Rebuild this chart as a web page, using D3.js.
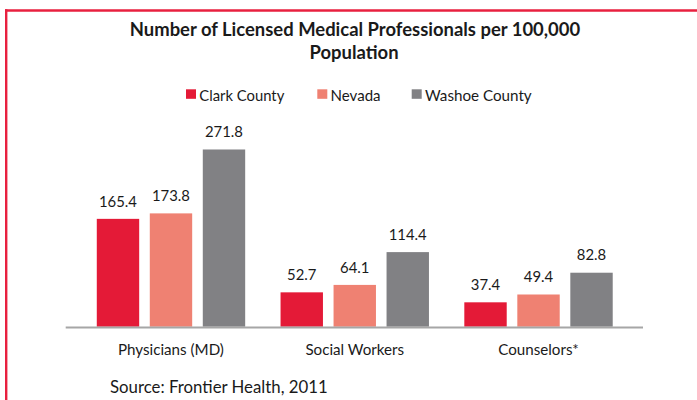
<!DOCTYPE html>
<html><head><meta charset="utf-8">
<script src="https://cdn.jsdelivr.net/npm/d3@7/dist/d3.min.js"></script>
<style>
html,body{margin:0;padding:0;background:#fff;}
svg{display:block;}
text{font-family:Lato,"Open Sans",sans-serif;fill:#1a1a1a;}
</style></head>
<body>
<svg id="chart" width="697" height="400"></svg>
<script>
const title = ["Number of Licensed Medical Professionals per 100,000", "Population"];
const categories = ["Physicians (MD)", "Social Workers", "Counselors*"];
const seriesNames = ["Clark County", "Nevada", "Washoe County"];
const clarkCounty = [165.4, 52.7, 37.4];
const nevada = [173.8, 64.1, 49.4];
const washoeCounty = [271.8, 114.4, 82.8];
const source = "Source: Frontier Health, 2011";

const seriesValues = [clarkCounty, nevada, washoeCounty];
const colors = ["#E41A37", "#EF8172", "#818184"];

const svg = d3.select("#chart");

function fit(sel, w) {
  const node = sel.node();
  const fs = parseFloat(sel.attr("font-size"));
  const len = node.getComputedTextLength();
  sel.attr("font-size", (fs * w / len).toFixed(2));
  return sel;
}

// border
svg.append("line").attr("x1", 5).attr("x2", 697).attr("y1", 10.5).attr("y2", 10.5)
  .attr("stroke", "#E8203F").attr("stroke-width", 2.5);
svg.append("line").attr("x1", 6.2).attr("x2", 6.2).attr("y1", 9.3).attr("y2", 400)
  .attr("stroke", "#E8203F").attr("stroke-width", 2.4);

// title (two lines)
{
  const probe = svg.append("text").attr("font-weight", "bold").attr("font-size", 17).text(title[0]);
  const fs = 17 * 451 / probe.node().getComputedTextLength();
  probe.remove();
  const t = svg.append("text").attr("text-anchor", "middle").attr("font-weight", "bold")
    .attr("font-size", fs.toFixed(2));
  t.append("tspan").attr("x", 355).attr("y", 35.7).text(title[0]);
  t.append("tspan").attr("x", 354).attr("y", 58.7).text(title[1]);
}

// legend
const legendX = [186, 317.3, 411.7];
const legendW = [85, 50, 106.7];
seriesNames.forEach((s, i) => {
  svg.append("rect").attr("x", legendX[i]).attr("y", 89.3).attr("width", 10).attr("height", 9.5)
    .attr("fill", colors[i]);
  fit(svg.append("text").attr("x", legendX[i] + 13.3).attr("y", 100.7)
    .attr("font-size", 15).text(s), legendW[i]);
});

// scales
const baseY = 326.7;
const x0 = d3.scaleBand().domain(categories).range([79.1, 630.4]);
const x1 = d3.scaleBand().domain(seriesNames).range([-79.5, 79.5]).paddingInner(0.2).paddingOuter(0.1);
const y = d3.scaleLinear().domain([0, 300]).range([baseY, baseY - 300 * 0.652]);

const groups = svg.append("g").selectAll("g").data(categories).join("g")
  .attr("transform", c => `translate(${x0(c) + x0.bandwidth() / 2},0)`);

groups.each(function (c, ci) {
  const g = d3.select(this);
  seriesNames.forEach((s, si) => {
    const v = seriesValues[si][ci];
    g.append("rect").attr("x", x1(s)).attr("width", x1.bandwidth())
      .attr("y", y(v)).attr("height", y(0) - y(v)).attr("fill", colors[si]);
    g.append("text").attr("x", x1(s) + x1.bandwidth() / 2).attr("y", y(v) - 12.3)
      .attr("text-anchor", "middle").attr("font-size", 15).text(v.toFixed(1));
  });
});
{
  const probe = svg.append("text").attr("font-size", 15).text("165.4");
  const fs = 15 * 38 / probe.node().getComputedTextLength();
  probe.remove();
  groups.selectAll("text").attr("font-size", fs.toFixed(2));
}

// axis line
svg.append("line").attr("x1", 65.7).attr("x2", 643).attr("y1", baseY + 0.8).attr("y2", baseY + 0.8)
  .attr("stroke", "#A6A6A6").attr("stroke-width", 2);

// category labels
{
  const probe = svg.append("text").attr("font-size", 15).text(categories[0]);
  const fs = 15 * 106 / probe.node().getComputedTextLength();
  probe.remove();
  categories.forEach(c => {
    svg.append("text").attr("x", x0(c) + x0.bandwidth() / 2).attr("y", 354.5)
      .attr("text-anchor", "middle").attr("font-size", fs.toFixed(2)).text(c);
  });
}

// source
fit(svg.append("text").attr("x", 110).attr("y", 393).attr("font-size", 17).text(source), 218);
</script>
</body></html>
